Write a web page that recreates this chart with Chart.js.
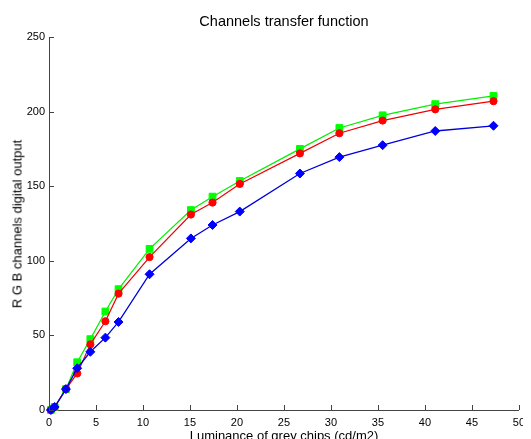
<!DOCTYPE html>
<html>
<head>
<meta charset="utf-8">
<script src="https://cdn.jsdelivr.net/npm/chart.js@4/dist/chart.umd.min.js"></script>
<style>
  html, body { margin: 0; padding: 0; background: #fff; overflow: hidden; width: 531px; height: 439px; }
  #wrap { position: relative; width: 531px; height: 439px; }
  #clip { position: absolute; left: 0; top: 0; width: 523px; height: 439px; overflow: hidden; }
  canvas { position: absolute; left: 0; top: 0; }
  .lbl { position: absolute; font-family: "Liberation Sans", Arial, sans-serif; color: #000; white-space: nowrap; }
  #title { left: 0; width: 568px; top: 13px; text-align: center; font-size: 14.5px; }
  #xlab { left: 0; width: 568px; top: 428px; text-align: center; font-size: 13px; }
  #ylab { left: 16.5px; top: 223.5px; font-size: 13px; transform: translate(-50%, -50%) rotate(-90deg); }
</style>
</head>
<body>
<div id="wrap">
  <div id="clip"><canvas id="c" width="531" height="439"></canvas></div>
  <div class="lbl" id="title">Channels transfer function</div>
  <div class="lbl" id="ylab">R G B channels digital output</div>
  <div class="lbl" id="xlab">Luminance of grey chips (cd/m2)</div>
</div>
<script>
// Luminance of grey chips (cd/m2)
const luminance = [0.2, 0.6, 1.8, 3.0, 4.4, 6.0, 7.4, 10.7, 15.1, 17.4, 20.3, 26.7, 30.9, 35.5, 41.1, 47.3];
const greenOut  = [0, 2, 14, 32, 47.5, 66, 81, 108, 134, 143, 153.5, 175, 189, 197.5, 205, 210.5];
const redOut    = [0, 2, 14, 24.5, 44, 59.5, 78, 102.5, 131, 139, 151.5, 172, 185.5, 194, 201.5, 207];
const blueOut   = [0, 2, 14, 28, 39, 48.5, 59, 91, 115, 124, 133, 158.5, 169.5, 177.5, 187, 190.5];
const xTicks = [0, 5, 10, 15, 20, 25, 30, 35, 40, 45, 50];
const yTicks = [0, 50, 100, 150, 200, 250];

function pts(ys) { return luminance.map((x, i) => ({ x: x, y: ys[i] })); }

const axisColor = '#444';
const inwardTicks = {
  id: 'inwardTicks',
  afterDatasetsDraw(chart) {
    const ctx = chart.ctx, a = chart.chartArea;
    const xs = chart.scales.x, ys = chart.scales.y;
    ctx.save();
    ctx.strokeStyle = axisColor;
    ctx.lineWidth = 1;
    ctx.beginPath();
    xTicks.forEach(v => {
      const px = Math.round(xs.getPixelForValue(v)) + 0.5;
      ctx.moveTo(px, a.bottom); ctx.lineTo(px, a.bottom - 5);
    });
    yTicks.forEach(v => {
      const py = Math.round(ys.getPixelForValue(v)) + 0.5;
      ctx.moveTo(a.left, py); ctx.lineTo(a.left + 5, py);
    });
    ctx.stroke();
    ctx.restore();
  }
};

const tickFont = { family: '"Liberation Sans", Arial, sans-serif', size: 11 };

new Chart(document.getElementById('c'), {
  type: 'scatter',
  data: {
    datasets: [
      { label: 'B', data: pts(blueOut), showLine: true, borderColor: '#0000dd', backgroundColor: '#0000ff',
        pointBorderColor: '#0000ff', pointBackgroundColor: '#0000ff', borderWidth: 1.3, pointStyle: 'rectRot',
        pointRadius: 4.5, pointBorderWidth: 1, clip: false, order: 0 },
      { label: 'R', data: pts(redOut), showLine: true, borderColor: '#ee0000', backgroundColor: '#ff0000',
        pointBorderColor: '#ff0000', pointBackgroundColor: '#ff0000', borderWidth: 1.2, pointStyle: 'circle',
        pointRadius: 3.6, pointBorderWidth: 1, clip: false, order: 1 },
      { label: 'G', data: pts(greenOut), showLine: true, borderColor: '#00ee00', backgroundColor: '#00ff00',
        pointBorderColor: '#00ff00', pointBackgroundColor: '#00ff00', borderWidth: 1.2, pointStyle: 'rect',
        pointRadius: 4.8, pointBorderWidth: 1, clip: false, order: 2 }
    ]
  },
  options: {
    responsive: false,
    animation: false,
    layout: { padding: { top: 37, right: 12, left: 0, bottom: 0 } },
    plugins: { legend: { display: false }, tooltip: { enabled: false }, title: { display: false } },
    elements: { line: { tension: 0 } },
    scales: {
      x: {
        type: 'linear', min: 0, max: 50,
        afterBuildTicks(s) { s.ticks = xTicks.map(v => ({ value: v })); },
        afterFit(s) { s.height = 29; },
        grid: { drawOnChartArea: false, drawTicks: false },
        border: { display: true, color: axisColor, width: 1 },
        ticks: { color: '#000', font: tickFont, padding: 6, maxRotation: 0, autoSkip: false }
      },
      y: {
        type: 'linear', min: 0, max: 250,
        afterBuildTicks(s) { s.ticks = yTicks.map(v => ({ value: v })); },
        afterFit(s) { s.width = 49; },
        grid: { drawOnChartArea: false, drawTicks: false },
        border: { display: true, color: axisColor, width: 1 },
        ticks: { color: '#000', font: tickFont, padding: 4, autoSkip: false }
      }
    }
  },
  plugins: [inwardTicks]
});
</script>
</body>
</html>
